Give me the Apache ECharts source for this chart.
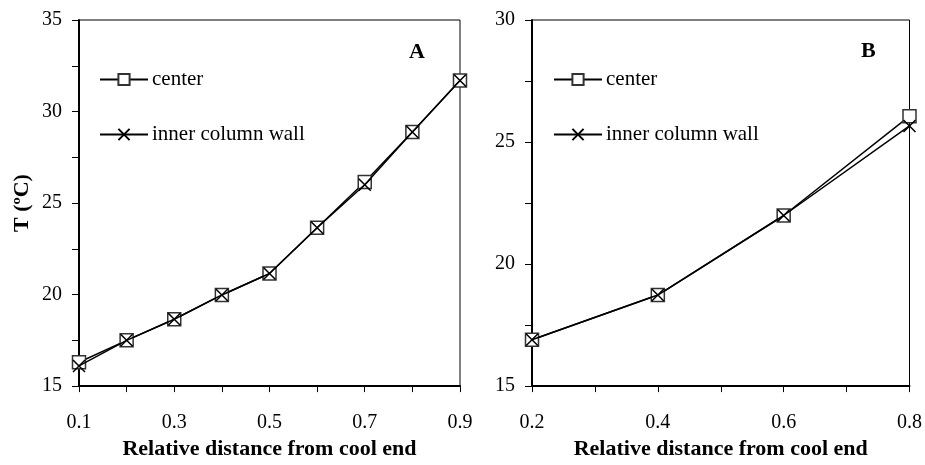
<!DOCTYPE html>
<html>
<head>
<meta charset="utf-8">
<script src="https://cdn.jsdelivr.net/npm/echarts@6/dist/echarts.min.js"></script>
<style>
  html, body { margin: 0; padding: 0; background: #fff; }
  #chart { width: 925px; height: 465px; }
</style>
</head>
<body>
<div id="chart"></div>
<script>
// panel A
const distA = [0.1, 0.2, 0.3, 0.4, 0.5, 0.6, 0.7, 0.8, 0.9];
const centerA = [16.3, 17.5, 18.65, 19.98, 21.15, 23.65, 26.15, 28.88, 31.7];
const wallA = [16.1, 17.5, 18.65, 19.98, 21.15, 23.65, 26.0, 28.88, 31.7];
// the line runs a bit past the right frame in the original
const tailA = [0.915, 32.17];

// panel B
const distB = [0.2, 0.4, 0.6, 0.8];
const centerB = [16.9, 18.73, 21.99, 26.06];
const wallB = [16.9, 18.73, 21.99, 25.66];

const seriesNames = ["center", "inner column wall"];
const panelLabels = ["A", "B"];
const yTitle = "T (ºC)";
const xTitle = "Relative distance from cool end";

const FONT = "Liberation Serif";
const crossPath = "path://M0,0L10,10M10,0L0,10";

function pairs(xs, ys) {
  return xs.map((x, i) => [x, ys[i]]);
}

const dataCenterA = pairs(distA, centerA);
dataCenterA.push({ value: tailA, symbol: "none" });

function xAxisOpt(idx, min, max) {
  return {
    type: "value",
    gridIndex: idx,
    min: min,
    max: max,
    interval: 0.2,
    name: xTitle,
    nameLocation: "middle",
    nameGap: 44,
    nameTextStyle: { fontFamily: FONT, fontSize: 22, fontWeight: "bold", color: "#000" },
    axisLine: { lineStyle: { color: "#000", width: 2 } },
    axisTick: { length: 6, lineStyle: { color: "#000", width: 1 } },
    minorTick: { show: true, splitNumber: 2, length: 6, lineStyle: { color: "#000", width: 1 } },
    splitLine: { show: false },
    axisLabel: {
      margin: 27,
      fontFamily: FONT,
      fontSize: 20,
      color: "#000",
      formatter: v => v.toFixed(1)
    }
  };
}

function yAxisOpt(idx, min, max, withName) {
  return {
    type: "value",
    gridIndex: idx,
    min: min,
    max: max,
    interval: 5,
    name: withName ? yTitle : "",
    nameLocation: "middle",
    nameGap: 46,
    nameTextStyle: { fontFamily: FONT, fontSize: 22, fontWeight: "bold", color: "#000" },
    axisLine: { show: true, lineStyle: { color: "#000", width: 2 } },
    axisTick: { length: 7, lineStyle: { color: "#000", width: 1 } },
    minorTick: { show: true, splitNumber: 2, length: 7, lineStyle: { color: "#000", width: 1 } },
    splitLine: { show: false },
    axisLabel: { margin: 17, fontFamily: FONT, fontSize: 20, color: "#000" }
  };
}

function centerSeries(idx, data) {
  return {
    name: seriesNames[0],
    type: "line",
    xAxisIndex: idx,
    yAxisIndex: idx,
    data: data,
    clip: false,
    symbol: "rect",
    symbolSize: 13,
    lineStyle: { color: "#000", width: 1.5 },
    itemStyle: { color: "#fff", borderColor: "#333", borderWidth: 1.5 },
    emphasis: { disabled: true },
    z: 2
  };
}

function wallSeries(idx, data) {
  return {
    name: seriesNames[1],
    type: "line",
    xAxisIndex: idx,
    yAxisIndex: idx,
    data: data,
    clip: false,
    symbol: crossPath,
    symbolSize: 12,
    lineStyle: { color: "#000", width: 1.5 },
    itemStyle: { color: "none", borderColor: "#000", borderWidth: 1.5 },
    emphasis: { disabled: true },
    z: 3
  };
}

function legendOpt(left) {
  return {
    left: left,
    top: 69,
    padding: 0,
    orient: "vertical",
    itemWidth: 48,
    itemHeight: 14,
    itemGap: 34,
    data: seriesNames,
    selectedMode: false,
    textStyle: { fontFamily: FONT, fontSize: 21, color: "#000", padding: [0, 0, 0, -1] }
  };
}

const chart = echarts.init(document.getElementById("chart"), null, { renderer: "canvas" });

chart.setOption({
  animation: false,
  backgroundColor: "#fff",
  title: [
    { text: panelLabels[0], left: 404, top: 36, textStyle: { fontFamily: FONT, fontSize: 22, fontWeight: "bold", color: "#000" } },
    { text: panelLabels[1], left: 856, top: 35, textStyle: { fontFamily: FONT, fontSize: 22, fontWeight: "bold", color: "#000" } }
  ],
  legend: [legendOpt(99), legendOpt(553)],
  grid: [
    { left: 79, top: 20, width: 381, height: 368, show: true, borderColor: "#000", borderWidth: 1, backgroundColor: "transparent" },
    { left: 532, top: 20, width: 380, height: 368, show: true, borderColor: "#000", borderWidth: 1, backgroundColor: "transparent" }
  ],
  xAxis: [xAxisOpt(0, 0.1, 0.9), xAxisOpt(1, 0.2, 0.8)],
  yAxis: [yAxisOpt(0, 15, 35, true), yAxisOpt(1, 15, 30, false)],
  series: [
    centerSeries(0, dataCenterA),
    wallSeries(0, pairs(distA, wallA)),
    centerSeries(1, pairs(distB, centerB)),
    wallSeries(1, pairs(distB, wallB))
  ]
});
</script>
</body>
</html>
